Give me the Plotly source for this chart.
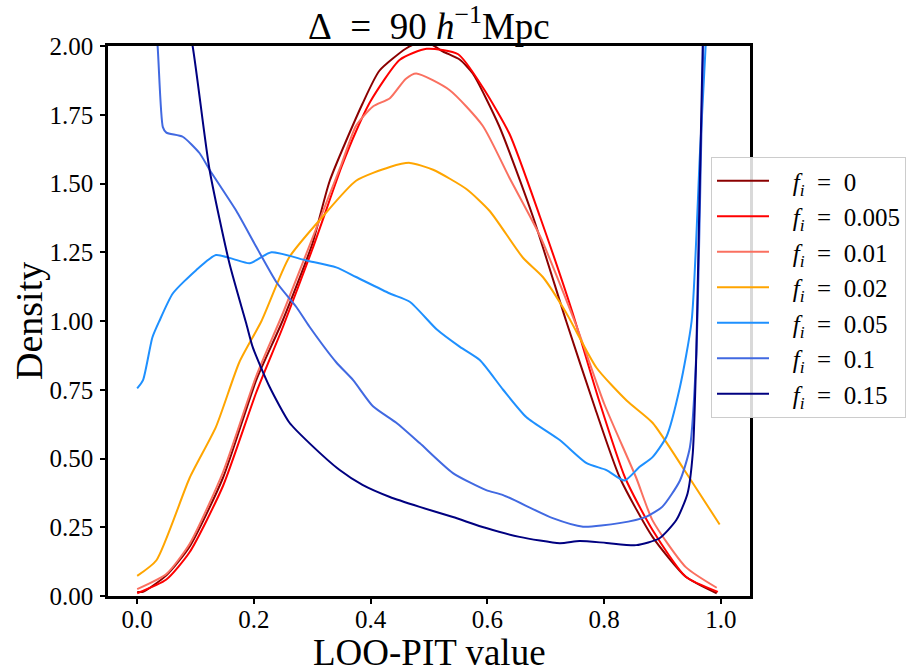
import plotly.graph_objects as go

# ---- data ----
labels = ["0", "0.005", "0.01", "0.02", "0.05", "0.1", "0.15"]
colors = ["#8B0000", "#FF0000", "#FA7060", "#FFA500", "#1E90FF", "#4169E1", "#000080"]

x_f0 = [0.0, 0.01, 0.05, 0.09, 0.147, 0.204, 0.249, 0.30, 0.33, 0.386, 0.415, 0.46, 0.48, 0.50,
        0.524, 0.553, 0.575, 0.62, 0.678, 0.735, 0.785, 0.827, 0.883, 0.94, 0.993]
y_f0 = [0.015, 0.015, 0.075, 0.18, 0.43, 0.785, 1.0, 1.28, 1.51, 1.79, 1.91, 1.99, 2.01, 2.01,
        1.98, 1.95, 1.90, 1.71, 1.38, 1.0, 0.68, 0.43, 0.215, 0.07, 0.01]

x_f0005 = [0.0, 0.05, 0.09, 0.147, 0.204, 0.25, 0.30, 0.35, 0.375, 0.40, 0.45, 0.496, 0.55, 0.592,
           0.638, 0.69, 0.746, 0.79, 0.836, 0.883, 0.94, 0.995]
y_f0005 = [0.01, 0.06, 0.16, 0.40, 0.74, 0.98, 1.26, 1.56, 1.69, 1.80, 1.95, 1.99, 1.97, 1.85,
           1.68, 1.38, 1.03, 0.72, 0.43, 0.24, 0.07, 0.015]

x_f001 = [0.0, 0.05, 0.09, 0.147, 0.204, 0.25, 0.30, 0.35, 0.375, 0.404, 0.433, 0.46, 0.478, 0.535,
          0.592, 0.638, 0.69, 0.753, 0.80, 0.855, 0.883, 0.94, 0.993]
y_f001 = [0.025, 0.08, 0.19, 0.45, 0.80, 1.03, 1.30, 1.57, 1.71, 1.78, 1.81, 1.88, 1.90, 1.84,
          1.71, 1.52, 1.31, 0.98, 0.70, 0.43, 0.275, 0.105, 0.03]

x_f002 = [0.0, 0.033, 0.09, 0.135, 0.175, 0.213, 0.26, 0.318, 0.375, 0.433, 0.467, 0.507, 0.564,
          0.604, 0.661, 0.695, 0.735, 0.787, 0.839, 0.883, 0.94, 0.998]
y_f002 = [0.073, 0.13, 0.43, 0.615, 0.85, 1.0, 1.23, 1.38, 1.51, 1.56, 1.575, 1.55, 1.48,
          1.40, 1.23, 1.16, 1.03, 0.83, 0.71, 0.63, 0.45, 0.26]

x_f005 = [0.0, 0.01, 0.026, 0.038, 0.061, 0.101, 0.135, 0.165, 0.193, 0.23, 0.29, 0.341, 0.375,
          0.433, 0.467, 0.513, 0.553, 0.587, 0.627, 0.667, 0.724, 0.77, 0.804, 0.835, 0.861,
          0.883, 0.907, 0.93, 0.95, 0.964, 0.974, 0.985]
y_f005 = [0.755, 0.785, 0.94, 1.0, 1.10, 1.185, 1.24, 1.225, 1.21, 1.25, 1.22, 1.195, 1.16,
          1.10, 1.07, 0.97, 0.906, 0.858, 0.75, 0.65, 0.567, 0.483, 0.458, 0.42, 0.47,
          0.505, 0.58, 0.76, 1.0, 1.6, 2.0, 2.6]

x_f01 = [0.0, 0.02, 0.035, 0.044, 0.05, 0.078, 0.107, 0.124, 0.17, 0.204, 0.239, 0.273, 0.295,
         0.341, 0.37, 0.404, 0.444, 0.484, 0.541, 0.598, 0.627, 0.712, 0.764, 0.826, 0.872,
         0.90, 0.93, 0.947, 0.958, 0.97, 0.985, 1.0]
y_f01 = [2.9, 2.4, 2.0, 1.705, 1.685, 1.67, 1.61, 1.55, 1.40, 1.27, 1.14, 1.05, 0.98,
         0.85, 0.785, 0.69, 0.63, 0.556, 0.447, 0.385, 0.367, 0.283, 0.252, 0.265, 0.288,
         0.325, 0.42, 0.54, 0.88, 2.0, 3.0, 4.0]

x_f015 = [0.0, 0.05, 0.095, 0.124, 0.158, 0.187, 0.198, 0.227, 0.261, 0.295, 0.347, 0.386, 0.433,
          0.484, 0.541, 0.598, 0.655, 0.724, 0.758, 0.804, 0.855, 0.895, 0.924, 0.943, 0.952,
          0.958, 0.969, 0.985, 1.0]
y_f015 = [3.1, 2.5, 2.0, 1.55, 1.21, 0.99, 0.905, 0.76, 0.63, 0.556, 0.458, 0.404, 0.36,
          0.324, 0.287, 0.247, 0.215, 0.192, 0.2, 0.193, 0.185, 0.21, 0.277, 0.373, 0.52,
          0.88, 2.0, 3.0, 4.0]

series_x = [x_f0, x_f0005, x_f001, x_f002, x_f005, x_f01, x_f015]
series_y = [y_f0, y_f0005, y_f001, y_f002, y_f005, y_f01, y_f015]

x_ticks = [0.0, 0.2, 0.4, 0.6, 0.8, 1.0]
x_ticklabels = ["0.0", "0.2", "0.4", "0.6", "0.8", "1.0"]
y_ticks = [0.0, 0.25, 0.5, 0.75, 1.0, 1.25, 1.5, 1.75, 2.0]
y_ticklabels = ["0.00", "0.25", "0.50", "0.75", "1.00", "1.25", "1.50", "1.75", "2.00"]

FONT = "Liberation Serif"

fig = go.Figure()
for xs, ys, lab, col in zip(series_x, series_y, labels, colors):
    fig.add_trace(go.Scatter(
        x=xs, y=ys, mode="lines",
        line=dict(color=col, width=2, shape="spline", smoothing=0.6),
        name="&nbsp;&nbsp;&nbsp;<i>f</i><sub><i>i</i></sub>&nbsp;&nbsp;=&nbsp;&nbsp;" + lab,
    ))

W, H = 916, 672
L, R, T, B = 108, 166, 46, 76
pw, ph = W - L - R, H - T - B

axis_common = dict(
    showline=True, linewidth=2.5, linecolor="black", mirror=True,
    ticks="outside", ticklen=5, tickwidth=2, tickcolor="black",
    showgrid=False, zeroline=False,
    tickfont=dict(family=FONT, size=25, color="black"),
)

fig.update_layout(
    width=W, height=H,
    margin=dict(l=L, r=R, t=T, b=B, autoexpand=False),
    plot_bgcolor="white", paper_bgcolor="white",
    xaxis=dict(range=[-0.05, 1.05], tickvals=x_ticks, ticktext=x_ticklabels,
               ticklabelstandoff=-6, **axis_common),
    yaxis=dict(range=[0, 2], tickvals=y_ticks, ticktext=y_ticklabels,
               ticklabelstandoff=2, **axis_common),
    legend=dict(
        x=(711 - L) / pw, y=(H - B - 157) / ph, xanchor="left", yanchor="top",
        bgcolor="rgba(255,255,255,0.85)", bordercolor="#cccccc", borderwidth=1,
        font=dict(family=FONT, size=25, color="black"),
        itemwidth=52,
    ),
    showlegend=True,
    annotations=[
        dict(text="Δ&nbsp;&nbsp;=&nbsp;&nbsp;90&nbsp;<i>h</i><sup>−1</sup>Mpc", xref="paper", yref="paper",
             x=0.5, y=(H - B - 24) / ph, xanchor="center", yanchor="middle", showarrow=False,
             font=dict(family=FONT, size=37, color="black")),
        dict(text="LOO-PIT value", xref="paper", yref="paper",
             x=0.5, y=(H - B - 652) / ph, xanchor="center", yanchor="middle", showarrow=False,
             font=dict(family=FONT, size=37, color="black")),
        dict(text="Density", xref="paper", yref="paper", textangle=-90,
             x=(29 - L) / pw, y=0.5, xanchor="center", yanchor="middle", showarrow=False,
             font=dict(family=FONT, size=38, color="black")),
    ],
)

fig.write_html("out.html", config={"displayModeBar": False},
               post_script="document.body.style.margin='0px';")
